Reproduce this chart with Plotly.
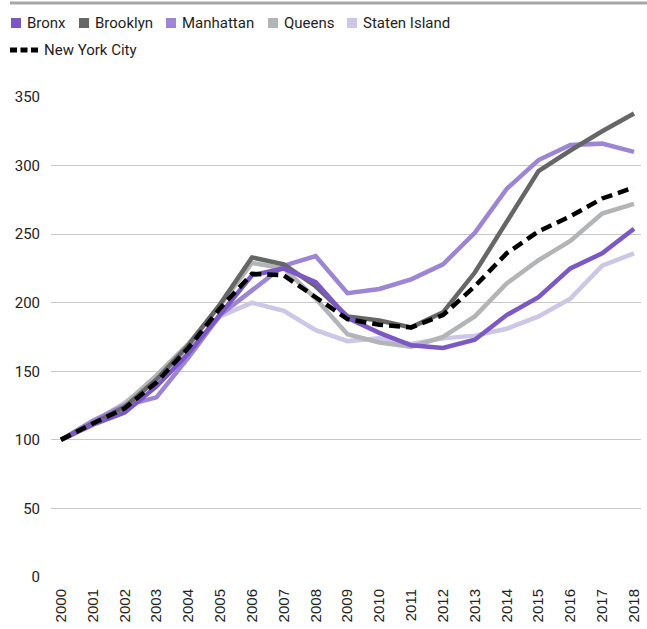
import plotly.graph_objects as go

years = list(range(2000, 2019))
bronx = [100, 111, 120, 139, 163, 192, 220, 225, 215, 189, 178, 169, 167, 173, 191, 204, 225, 236, 254]
brooklyn = [100, 112, 124, 144, 169, 199, 233, 228, 212, 190, 187, 182, 193, 222, 259, 296, 311, 325, 338]
manhattan = [100, 114, 125, 131, 160, 191, 209, 227, 234, 207, 210, 217, 228, 251, 283, 304, 315, 316, 310]
queens = [100, 113, 126, 147, 170, 198, 229, 225, 203, 177, 171, 168, 175, 190, 214, 231, 245, 265, 272]
staten = [100, 113, 127, 145, 165, 190, 200, 194, 180, 172, 174, 170, 174, 176, 181, 190, 203, 227, 236]
nyc = [100, 112, 123, 142, 167, 196, 221, 220, 204, 188, 184, 182, 191, 212, 236, 252, 263, 276, 284]

series = [
    ("Bronx", bronx, "#7b58c6"),
    ("Brooklyn", brooklyn, "#666666"),
    ("Manhattan", manhattan, "#9d84d4"),
    ("Queens", queens, "#b2b4b6"),
    ("Staten Island", staten, "#cdc6e6"),
]
nyc_name = "New York City"

FONT = "Roboto"
W, H = 647, 629
ML, MR, MT, MB = 51, 6, 97, 52
PW, PH = W - ML - MR, H - MT - MB


def px_x(px):
    return (px - ML) / PW


def px_y(py):
    return (H - MB - py) / PH


fig = go.Figure()

# draw order: lighter first
for name, vals, col in [series[4], series[3], series[2], series[1], series[0]]:
    fig.add_trace(go.Scatter(x=years, y=vals, mode="lines", name=name,
                             line=dict(color=col, width=4.5), showlegend=False))
fig.add_trace(go.Scatter(x=years, y=nyc, mode="lines", name=nyc_name,
                         line=dict(color="#000000", width=4.5, dash="11px,6px"),
                         showlegend=False))

# legend (keys drawn as shapes, labels as text)
sq_left = [11, 79, 166, 268, 347]
for (name, vals, col), x0 in zip(series, sq_left):
    fig.add_shape(type="rect", xref="paper", yref="paper",
                  x0=px_x(x0), x1=px_x(x0 + 10), y0=px_y(28), y1=px_y(18),
                  fillcolor=col, line=dict(width=0))
    fig.add_annotation(xref="paper", yref="paper", x=px_x(x0 + 14), y=px_y(23),
                       xanchor="left", yanchor="middle", showarrow=False,
                       text=name, font=dict(size=15, family=FONT, color="#1e1e1e"))

fig.add_shape(type="line", xref="paper", yref="paper",
              x0=px_x(10), x1=px_x(38), y0=px_y(50), y1=px_y(50),
              line=dict(color="#000000", width=5, dash="7px,3.5px"))
fig.add_annotation(xref="paper", yref="paper", x=px_x(42), y=px_y(50),
                   xanchor="left", yanchor="middle", showarrow=False,
                   text=nyc_name, font=dict(size=15, family=FONT, color="#1e1e1e"))

# top rule
fig.add_shape(type="line", xref="paper", yref="paper", x0=px_x(10), x1=px_x(650),
              y0=px_y(3), y1=px_y(3), line=dict(color="#a6a6a6", width=3))

fig.update_layout(
    width=W, height=H,
    margin=dict(l=ML, r=MR, t=MT, b=MB, autoexpand=False),
    paper_bgcolor="white", plot_bgcolor="white",
    font=dict(family=FONT, color="#222222"),
    showlegend=False,
    xaxis=dict(range=[1999.686, 2018.22], tickmode="array", tickvals=years,
               ticktext=[str(y) for y in years], tickangle=-90,
               showgrid=False, zeroline=False, showline=False, ticks="",
               ticklabelstandoff=8,
               tickfont=dict(size=15, family="Liberation Sans", color="#222222")),
    yaxis=dict(range=[0, 350], tickvals=[0, 50, 100, 150, 200, 250, 300, 350],
               showgrid=True, gridcolor="#c9c9c9", gridwidth=1, zeroline=False,
               showline=False, ticks="", ticklabelstandoff=10,
               tickfont=dict(size=15, family=FONT, color="#222222")),
)

fig.write_html("out.html", config={"displayModeBar": False},
               post_script="document.body.style.margin='0';")
